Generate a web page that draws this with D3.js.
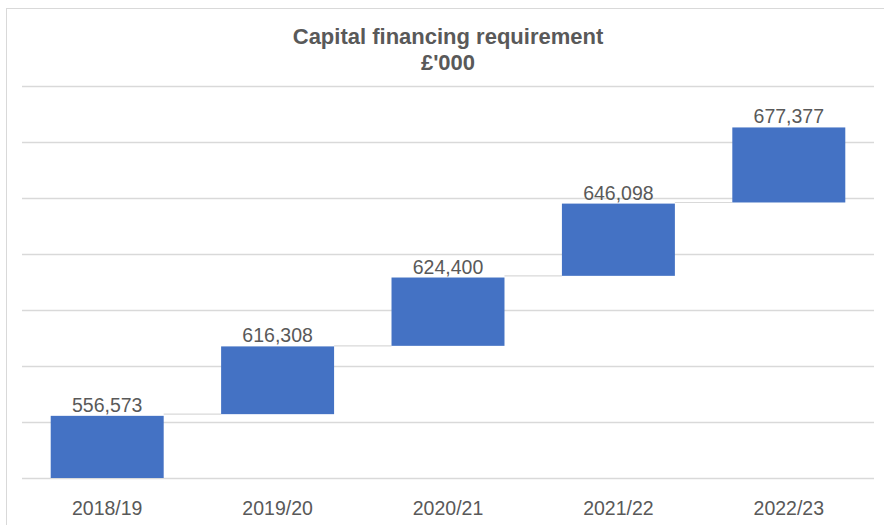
<!DOCTYPE html>
<html>
<head>
<meta charset="utf-8">
<script src="https://cdn.jsdelivr.net/npm/d3@7"></script>
<style>
  body { margin: 0; background: #fff; }
  svg { display: block; font-family: "Liberation Sans", Arial, sans-serif; }
</style>
</head>
<body>
<svg id="chart" width="884" height="525"></svg>
<script>
// categories and the printed totals
const years = ["2018/19", "2019/20", "2020/21", "2021/22", "2022/23"];
const totals = [556573, 616308, 624400, 646098, 677377];
// floating bar extents in gridline units (0 = axis line)
const barBase = [0, 1.14, 2.36, 3.61, 4.92];
const barTop = [1.11, 2.35, 3.58, 4.90, 6.26];
const gridTicks = [0, 1, 2, 3, 4, 5, 6, 7];

const svg = d3.select("#chart");
const margin = { top: 86, left: 22, right: 10, bottom: 47 };
const width = 874 - margin.left;
const height = 478 - margin.top;

// chart frame
svg.append("rect")
    .attr("x", 6.5).attr("y", 8.5)
    .attr("width", 890).attr("height", 530)
    .attr("fill", "#fff")
    .attr("stroke", "#d9d9d9")
    .attr("stroke-width", 1);

const g = svg.append("g")
    .attr("transform", `translate(${margin.left},${margin.top})`);

const x = d3.scaleBand()
    .domain(years)
    .range([0, width])
    .paddingInner(0.337)
    .paddingOuter(0.1685);

const y = d3.scaleLinear()
    .domain([0, 7])
    .range([height, 0]);

// horizontal gridlines
g.selectAll(".grid")
    .data(gridTicks)
    .enter()
    .append("line")
    .attr("class", "grid")
    .attr("x1", 0)
    .attr("x2", width)
    .attr("y1", d => Math.round(y(d)) + 0.5)
    .attr("y2", d => Math.round(y(d)) + 0.5)
    .attr("stroke", "#d9d9d9")
    .attr("stroke-width", 1.5);

// connectors between consecutive bars
const links = d3.range(years.length - 1);
g.selectAll(".link")
    .data(links)
    .enter()
    .append("line")
    .attr("class", "link")
    .attr("x1", i => x(years[i]) + x.bandwidth())
    .attr("x2", i => x(years[i + 1]))
    .attr("y1", i => y(barBase[i + 1]))
    .attr("y2", i => y(barBase[i + 1]))
    .attr("stroke", "#d9d9d9")
    .attr("stroke-width", 1.2);

// floating bars
g.selectAll(".bar")
    .data(years)
    .enter()
    .append("rect")
    .attr("class", "bar")
    .attr("x", d => x(d))
    .attr("width", x.bandwidth())
    .attr("y", (d, i) => y(barTop[i]))
    .attr("height", (d, i) => y(barBase[i]) - y(barTop[i]))
    .attr("fill", "#4472c4");

// value labels
const fmt = d3.format(",");
g.selectAll(".value")
    .data(years)
    .enter()
    .append("text")
    .attr("class", "value")
    .attr("x", d => x(d) + x.bandwidth() / 2)
    .attr("y", (d, i) => y(barTop[i]) - 4)
    .attr("text-anchor", "middle")
    .attr("font-size", "19.5px")
    .attr("fill", "#595959")
    .text((d, i) => fmt(totals[i]));

// category axis
const xAxis = g.append("g")
    .attr("transform", `translate(0,${height})`)
    .call(d3.axisBottom(x).tickSize(0).tickPadding(23));
xAxis.select(".domain").remove();
xAxis.selectAll("text")
    .attr("font-size", "19.5px")
    .attr("font-family", "Liberation Sans, Arial, sans-serif")
    .attr("fill", "#595959");

// title
const title = svg.append("text")
    .attr("x", margin.left + width / 2)
    .attr("text-anchor", "middle")
    .attr("font-size", "22px")
    .attr("font-weight", "bold")
    .attr("fill", "#595959");
title.append("tspan").attr("x", margin.left + width / 2).attr("y", 44)
    .text("Capital financing requirement");
title.append("tspan").attr("x", margin.left + width / 2).attr("y", 69.5)
    .text("£'000");
</script>
</body>
</html>
